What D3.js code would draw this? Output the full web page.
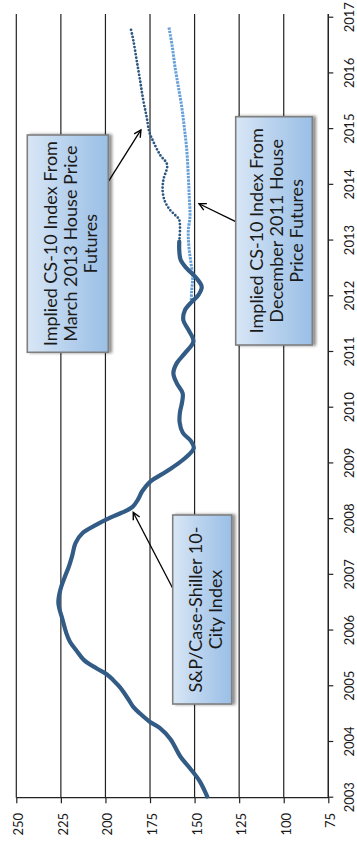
<!DOCTYPE html>
<html><head><meta charset="utf-8">
<script src="https://cdn.jsdelivr.net/npm/d3@7/dist/d3.min.js"></script>
<style>
html,body{margin:0;padding:0;background:#fff;}
svg{display:block;}
text{font-family:Lato,"Open Sans",sans-serif;fill:#1a1a1a;}
</style>
</head><body>
<svg id="chart" width="357" height="850"></svg>
<script>
// ---------- data ----------
const years = [2003,2004,2005,2006,2007,2008,2009,2010,2011,2012,2013,2014,2015,2016,2017];
const valueTicks = [250,225,200,175,150,125,100,75];

// S&P/Case-Shiller 10-City Index
const csDates = [2003.02,2003.29,2003.53,2003.74,2004.05,2004.25,2004.36,2004.51,2004.63,2004.78,2004.98,2005.11,2005.22,2005.32,2005.47,2005.65,2005.80,2005.95,2006.19,2006.49,2006.73,2006.97,2007.15,2007.35,2007.57,2007.75,2007.90,2008.03,2008.12,2008.22,2008.35,2008.50,2008.67,2008.86,2009.07,2009.27,2009.40,2009.55,2009.74,2009.92,2010.10,2010.26,2010.44,2010.62,2010.80,2010.98,2011.19,2011.40,2011.57,2011.75,2011.90,2012.02,2012.17,2012.32,2012.50,2012.65,2012.83,2012.98];
const csValues = [142.9,147.0,152.6,158.0,163.5,169.4,175.0,180.6,184.4,187.4,191.8,195.6,199.5,204.9,212.0,216.5,219.9,221.9,224.0,226.4,225.3,222.7,220.5,218.6,216.8,212.8,205.0,197.0,190.5,184.8,181.8,179.4,175.0,165.6,156.3,150.5,152.0,156.6,158.4,158.2,157.0,156.7,160.0,161.9,160.0,155.4,150.7,153.5,156.3,155.4,151.6,147.9,146.0,148.8,154.4,157.8,158.6,158.6];

// Implied CS-10 index from March 2013 house price futures
const mar13Dates = [2012.98,2013.37,2013.46,2013.55,2013.70,2013.88,2014.09,2014.36,2014.54,2014.78,2014.95,2015.22,2015.52,2015.88,2016.24,2016.60,2016.79];
const mar13Values = [158.6,158.6,161.0,163.8,166.6,167.9,167.5,165.4,169.4,173.2,175.4,176.9,178.8,180.6,182.5,184.4,185.7];

// Implied CS-10 index from December 2011 house price futures
const dec11Dates = [2011.93,2012.11,2012.35,2012.59,2012.83,2013.04,2013.19,2013.43,2013.79,2014.15,2014.63,2015.04,2015.40,2015.76,2016.12,2016.48,2016.83];
const dec11Values = [151.9,151.6,151.1,152.0,153.0,153.5,153.5,152.6,153.0,153.5,154.4,155.8,157.2,159.1,161.0,162.5,164.4];

// annotations: text and the (year, value) point each arrow points at
const annoLines = [
  ["Implied CS-10 Index From","March 2013 House Price","Futures"],
  ["Implied CS-10 Index From","December 2011 House","Price Futures"],
  ["S&P/Case-Shiller 10-","City Index"]
];
const annoTargetYear = [2014.985, 2013.66, 2008.12];
const annoTargetValue = [180.1, 147.5, 184.4];

// ---------- layout (unrotated frame: 850 wide x 357 tall) ----------
const plot = {left: 52.3, right: 832.3, end: 836, top: 16.3, bottom: 328.3};
const boxLayout = [
  {x: 497.7, y: 27.3, w: 217.3, h: 81, ax: 668.3},
  {x: 505, y: 235.7, w: 228.3, h: 76.6, ax: 628.3},
  {x: 146, y: 172.7, w: 189, h: 59, ax: 261.7}
];

const svg = d3.select("#chart");
const defs = svg.append("defs");

const grad = defs.append("linearGradient").attr("id","boxGrad")
  .attr("x1",0).attr("y1",0).attr("x2",0).attr("y2",1);
grad.append("stop").attr("offset","0%").attr("stop-color","#d9e7f6");
grad.append("stop").attr("offset","45%").attr("stop-color","#bad3ee");
grad.append("stop").attr("offset","100%").attr("stop-color","#9abfe6");

const shadow = defs.append("filter").attr("id","shadow")
  .attr("x","-10%").attr("y","-10%").attr("width","120%").attr("height","130%");
shadow.append("feDropShadow").attr("dx",0).attr("dy",3).attr("stdDeviation",1.6)
  .attr("flood-color","#000").attr("flood-opacity",0.45);

defs.append("marker").attr("id","arrow")
  .attr("viewBox","-10 -6 12 12").attr("refX",0).attr("refY",0)
  .attr("markerWidth",12).attr("markerHeight",12)
  .attr("markerUnits","userSpaceOnUse").attr("orient","auto")
  .append("path").attr("d","M-7,-3.6 L0,0 L-7,3.6")
  .attr("fill","none").attr("stroke","#000").attr("stroke-width",1.4);

const g = svg.append("g").attr("transform", `translate(0,850) rotate(-90)`);

const x = d3.scaleLinear().domain([2003, 2017]).range([plot.left, plot.right]);
const y = d3.scaleLinear().domain([75, 250]).range([plot.bottom, plot.top]);

// gridlines
g.append("g").selectAll("line").data(valueTicks).join("line")
  .attr("x1", plot.left).attr("x2", plot.end)
  .attr("y1", d => y(d)).attr("y2", d => y(d))
  .attr("stroke","#222").attr("stroke-width",1.2);

// time axis
const xAxis = g.append("g").attr("transform",`translate(0,${plot.bottom})`)
  .call(d3.axisBottom(x).tickValues(years).tickFormat(d3.format("d")).tickSize(5).tickPadding(11.5).tickSizeOuter(0));
xAxis.select(".domain").remove();
xAxis.append("line").attr("x1",plot.left).attr("x2",plot.end).attr("stroke","#222").attr("stroke-width",1.2);
xAxis.selectAll(".tick line").attr("stroke","#222").attr("stroke-width",1.2);
xAxis.selectAll("text").attr("font-size",13).attr("font-family","Lato").attr("fill","#1a1a1a");

// value axis
const yAxis = g.append("g").attr("transform",`translate(${plot.left},0)`)
  .call(d3.axisLeft(y).tickValues(valueTicks).tickSize(5.5).tickPadding(9.8).tickSizeOuter(0));
yAxis.select(".domain").remove();
yAxis.append("line").attr("y1",plot.top).attr("y2",plot.bottom).attr("stroke","#222").attr("stroke-width",1.2);
yAxis.selectAll(".tick line").attr("stroke","#222").attr("stroke-width",1.2);
yAxis.selectAll("text").attr("font-size",13).attr("dy","0.5em").attr("font-family","Lato").attr("fill","#1a1a1a");

// series
const line = d3.line().x(d => x(d[0])).y(d => y(d[1])).curve(d3.curveCatmullRom.alpha(0.5));

g.append("path").datum(d3.zip(dec11Dates, dec11Values))
  .attr("d", line).attr("fill","none").attr("stroke","#66a0da")
  .attr("stroke-width",3).attr("stroke-dasharray","2.4 1");

g.append("path").datum(d3.zip(mar13Dates, mar13Values))
  .attr("d", line).attr("fill","none").attr("stroke","#2c5780")
  .attr("stroke-width",2.8).attr("stroke-linecap","round").attr("stroke-dasharray","0 3.5");

g.append("path").datum(d3.zip(csDates, csValues))
  .attr("d", line).attr("fill","none").attr("stroke","#325c85")
  .attr("stroke-width",4.2).attr("stroke-linejoin","round").attr("stroke-linecap","round");

// annotations
annoLines.forEach((lines, i) => {
  const b = boxLayout[i];
  const tx = x(annoTargetYear[i]), ty = y(annoTargetValue[i]);
  const sy = ty > b.y + b.h ? b.y + b.h : b.y;
  g.append("line").attr("x1", b.ax).attr("y1", sy).attr("x2", tx).attr("y2", ty)
    .attr("stroke","#000").attr("stroke-width",1.3).attr("marker-end","url(#arrow)");
  g.append("rect").attr("x", b.x).attr("y", b.y).attr("width", b.w).attr("height", b.h)
    .attr("fill","url(#boxGrad)").attr("stroke","#7f7f7f").attr("stroke-width",1.6)
    .attr("filter","url(#shadow)");
  const lh = 20;
  const cy = b.y + b.h/2 + 3;
  const t = g.append("text").attr("text-anchor","middle").attr("font-size",18);
  lines.forEach((s, k) => {
    t.append("tspan").attr("x", b.x + b.w/2)
      .attr("y", cy + (k - (lines.length-1)/2) * lh)
      .attr("dy","0.36em").text(s);
  });
});
</script>
</body></html>
